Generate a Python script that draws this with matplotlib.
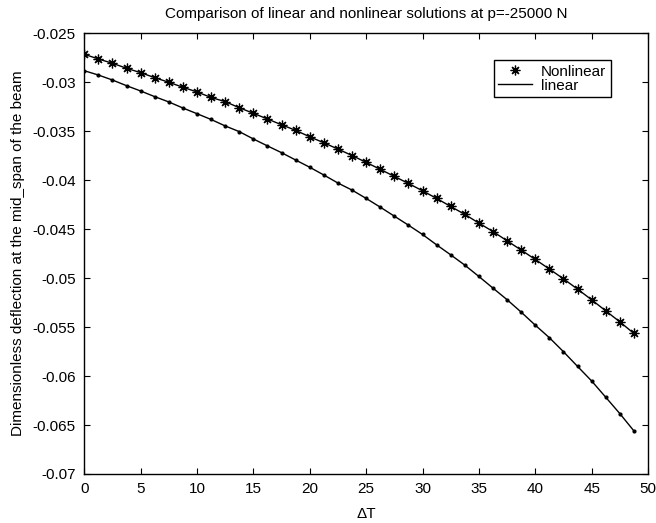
import matplotlib.pyplot as plt
import numpy as np

plt.rcParams['font.family'] = ['Liberation Sans', 'DejaVu Sans']

# temperature rise, step 1.25 from 0 to 48.75
dT = np.arange(40) * 1.25

nonlinear = [-0.02714, -0.02762, -0.02806, -0.02857, -0.02902, -0.02953, -0.03000, -0.03051,
             -0.03099, -0.03155, -0.03198, -0.03260, -0.03317, -0.03375, -0.03434, -0.03491,
             -0.03557, -0.03618, -0.03682, -0.03748, -0.03818, -0.03889, -0.03961, -0.04033,
             -0.04108, -0.04186, -0.04268, -0.04349, -0.04438, -0.04524, -0.04619, -0.04713,
             -0.04809, -0.04907, -0.05007, -0.05112, -0.05221, -0.05334, -0.05446, -0.05565]

linear = [-0.02882, -0.02926, -0.02977, -0.03035, -0.03089, -0.03147, -0.03201, -0.03263,
          -0.03321, -0.03380, -0.03446, -0.03504, -0.03579, -0.03650, -0.03719, -0.03794,
          -0.03868, -0.03947, -0.04029, -0.04101, -0.04186, -0.04275, -0.04367, -0.04459,
          -0.04554, -0.04660, -0.04762, -0.04867, -0.04983, -0.05102, -0.05220, -0.05347,
          -0.05480, -0.05608, -0.05751, -0.05901, -0.06050, -0.06216, -0.06383, -0.06560]

fig = plt.figure(figsize=(6.56, 5.23), dpi=100)
ax = fig.add_axes([0.1285, 0.0937, 0.8593, 0.8426])

ax.plot(dT, nonlinear, color='black', linewidth=1.0)
ax.plot(dT, nonlinear, linestyle='None', marker=(8, 2, 0), markersize=7,
        markeredgewidth=0.9, color='black', label='Nonlinear')
ax.plot(dT, linear, color='black', linewidth=1.0, label='linear')
ax.plot(dT, linear, linestyle='None', marker='o', markersize=2, color='black')

ax.set_xlim(0, 50)
ax.set_ylim(-0.07, -0.025)
ax.set_xticks(np.arange(0, 51, 5))
ax.set_yticks(np.arange(-0.07, -0.0249, 0.005))
ax.set_yticklabels(['-0.07', '-0.065', '-0.06', '-0.055', '-0.05', '-0.045',
                    '-0.04', '-0.035', '-0.03', '-0.025'])
ax.tick_params(direction='in', top=True, right=True, length=4, width=0.8,
               labelsize=11, pad=6)
for s in ax.spines.values():
    s.set_linewidth(1.0)

ax.set_xlabel('ΔT', fontsize=11, labelpad=8)
ax.set_ylabel('Dimensionless deflection at the mid_span of the beam', fontsize=11, labelpad=6)
ax.set_title('Comparison of linear and nonlinear solutions at p=-25000 N', fontsize=11, pad=11)

leg = ax.legend(loc='upper right', bbox_to_anchor=(0.934, 0.939), fontsize=11,
                borderaxespad=0, fancybox=False, edgecolor='black', framealpha=1,
                borderpad=0.3, labelspacing=0.0, handlelength=2.2, handletextpad=0.6)
leg.get_frame().set_linewidth(1.0)

fig.savefig('out.png', dpi=100)
